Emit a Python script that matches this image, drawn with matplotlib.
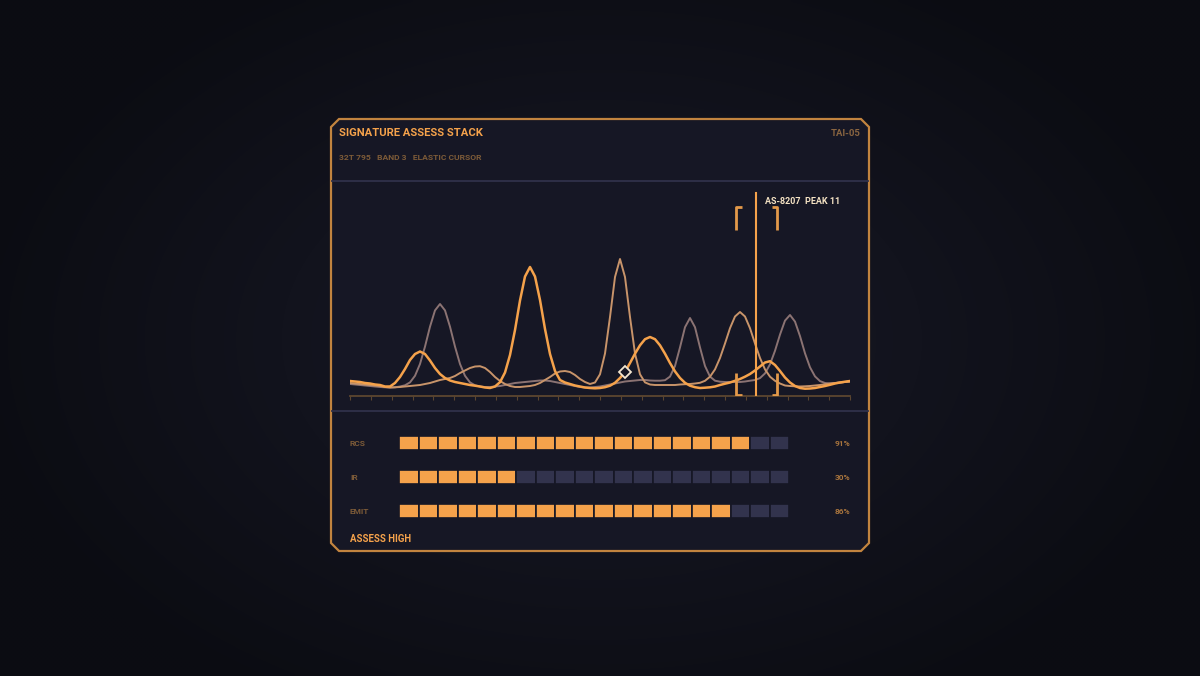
import numpy as np
import matplotlib.pyplot as plt
from matplotlib.patches import Polygon

W, H = 1200, 676

# ====== data ======
# signal samples, one every 5 px across the trace window
primary = [15, 14.5, 14, 13, 12.5, 11.5, 11, 9.5, 9.5, 13,
           19, 27, 36, 42, 44.5, 42, 35.5, 28, 22, 18,
           15.5, 14, 13, 12, 11, 10.3, 9.5, 8.5, 8, 9.5,
           13.8, 23.5, 41, 66, 95.5, 119.5, 129, 119.5, 96, 67,
           42, 25, 16, 13.5, 12, 10.5, 9.5, 8.5, 8, 7.7,
           8, 8.8, 10.3, 13.2, 18, 24, 33, 42.3, 50.7, 56.8,
           59, 56.8, 50.7, 42.3, 33, 24.6, 18, 13.2, 10.3, 8.8,
           8, 8.3, 8.7, 9.5, 11, 12.3, 13.5, 15.2, 17, 19.3,
           22, 25.5, 29.5, 33.5, 34.8, 31, 25, 18.5, 13.5, 10,
           8, 7.3, 7.5, 8, 9, 10, 11.2, 12.5, 13.5, 14.3, 15]
secondary = [13, 12.5, 12, 11.5, 11, 10.5, 10, 9, 8.5, 8.7,
             9, 9.5, 10, 10.5, 11, 12, 13, 14.5, 16, 17,
             18, 20, 23, 25.5, 28, 29.5, 29.8, 28, 24, 19,
             15, 12, 10, 9, 9, 9.5, 10, 11, 13, 16,
             19, 22.5, 24.5, 25, 24, 21, 17, 14, 12, 13.5,
             21.7, 42.5, 79, 119, 137, 119, 79, 42.5, 21.7, 13.6,
             11.5, 11, 11, 11, 11, 11, 11.5, 11.8, 12, 12.5,
             13.2, 15.2, 19.3, 26.6, 38, 52.5, 67.8, 79.5, 84, 79.5,
             67.8, 52.5, 38, 26.6, 19.3, 15.2, 12.5, 10.5, 10, 9.7,
             9.5, 9.7, 10, 10.5, 11, 11.8, 12.5, 13, 13.5, 14, 14.5]
tertiary = [12, 11.5, 11, 10.5, 10, 9.5, 9, 8.7, 8.5, 8.7,
            9.5, 10.7, 13.6, 20.2, 32, 49.4, 69.3, 85.6, 92, 85.6,
            69.3, 49.4, 32, 20.2, 13.6, 10.7, 9.5, 9, 9, 9.5,
            10, 11, 12, 13, 13.5, 14, 14.5, 15, 15.5, 15.5,
            15, 14, 13, 12, 11, 10, 9, 8.5, 8.5, 9,
            9.5, 10.5, 11.5, 12.5, 13.5, 14.5, 15, 15.5, 16, 16,
            15.5, 15.3, 15.3, 15.8, 19.4, 30, 48.6, 68.8, 78, 68.8,
            48.6, 30, 19.4, 15.3, 14.3, 14, 14, 14, 14, 14.5,
            15.3, 16, 17.9, 22.6, 31.7, 45.2, 61.4, 75.4, 81, 74.4,
            59.9, 42.7, 28.7, 19.6, 14.9, 13, 12.5, 13, 13.5, 14, 14.5]
sample_x = np.arange(len(primary))

cursor_x = 81.2
marker_i = 55
cursor_label = 'AS-8207  PEAK 11'

bar_labels = ['RCS', 'IR', 'EMIT']
bar_pct = [91, 30, 86]
n_seg = 20

title = 'SIGNATURE ASSESS STACK'
subtitle = '32T 795   BAND 3   ELASTIC CURSOR'
tag = 'TAI-05'
footer = 'ASSESS HIGH'

# ====== colours ======
ORANGE = '#f5a24b'
MUTED = '#c8946a'
MAUVE = '#8b7373'
DIM = '#7d5b38'
PANEL = '#161725'

plt.rcParams['font.family'] = ['Roboto', 'DejaVu Sans']

fig = plt.figure(figsize=(12, 6.76), dpi=100)


def px_axes(l, t, r, b):
    return fig.add_axes([l / W, 1 - b / H, (r - l) / W, (b - t) / H])


# background vignette
bg = fig.add_axes([0, 0, 1, 1])
yy, xx = np.mgrid[0:H:4, 0:W:4]
rr = np.sqrt(((xx - 600) / 640) ** 2 + ((yy - 338) / 420) ** 2)
rr = np.clip(rr, 0, 1)
c0 = np.array([25, 26, 40]) / 255
c1 = np.array([11, 12, 18]) / 255
img = c0[None, None, :] * (1 - rr[..., None]) + c1[None, None, :] * rr[..., None]
bg.imshow(img, extent=(0, W, H, 0), aspect='auto', interpolation='bilinear')
bg.set_xlim(0, W)
bg.set_ylim(H, 0)
bg.axis('off')

# panel frame
c = 8
L, T, R, B = 331, 119, 869, 551
pts = [(L + c, T), (R - c, T), (R, T + c), (R, B - c), (R - c, B), (L + c, B), (L, B - c), (L, T + c)]
bg.add_patch(Polygon(pts, closed=True, facecolor=PANEL, edgecolor='#c2843f', lw=1.6))
bg.plot([L + 1, R - 1], [181, 181], color='#30314a', lw=1.3)
bg.plot([L + 1, R - 1], [411, 411], color='#30314a', lw=1.3)

bg.text(339, 133, title, color=ORANGE, fontsize=8.1, fontweight='bold', ha='left', va='center')
bg.text(861, 133, tag, color='#8a6540', fontsize=6.8, fontweight='bold', ha='right', va='center')
bg.text(339, 158, subtitle, color=DIM, fontsize=6.1, fontweight='bold', ha='left', va='center')
bg.text(350, 539, footer, color=ORANGE, fontsize=6.9, fontweight='bold', ha='left', va='center')

# ====== trace ======
ax = px_axes(350, 186, 850, 396)
ax.set_facecolor('none')
ax.plot(sample_x, tertiary, color=MAUVE, lw=1.4, zorder=2)
ax.plot(sample_x, secondary, color=MUTED, lw=1.4, zorder=3)
ax.plot(sample_x, primary, color=ORANGE, lw=1.8, zorder=4)
ax.plot(marker_i, primary[marker_i], marker='D', ms=6.5, mfc=PANEL, mec='#f4e6d0', mew=1.3, zorder=6)

ax.axvline(cursor_x, ymin=0, ymax=203 / 210, color=ORANGE, lw=1.5, zorder=5)
bl, br = 77.2, 85.4
bk = dict(color='#e3994a', lw=2, solid_capstyle='butt', zorder=5)
ax.plot([bl + 1.1, bl, bl], [189, 189, 166], **bk)
ax.plot([br - 1.1, br, br], [189, 189, 166], **bk)
ax.plot([bl, bl, bl + 1.1], [23, 1, 1], **bk)
ax.plot([br, br, br - 1.1], [23, 1, 1], **bk)
ax.text(83, 195, cursor_label, color='#f5e3c4', fontsize=6.5, fontweight='bold', ha='left', va='center')

ax.set_xlim(0, 100)
ax.set_ylim(0, 210)
for s in ['top', 'left', 'right']:
    ax.spines[s].set_visible(False)
ax.spines['bottom'].set_color('#5c4630')
ax.spines['bottom'].set_linewidth(1.3)
ax.set_xticks(np.linspace(0, 100, 25))
ax.set_yticks([])
ax.tick_params(axis='x', direction='out', length=3, width=0.8, color='#5c4630', labelbottom=False)

# ====== segmented bars ======
bx = px_axes(399, 426, 789, 528)
bx.set_facecolor('none')
for r, pct in enumerate(bar_pct):
    filled = int(round(pct / 100 * n_seg))
    cols = [ORANGE if i < filled else '#32334d' for i in range(n_seg)]
    bx.bar(np.arange(n_seg), 0.42, bottom=r - 0.21, width=1.0, align='edge', color=cols,
           edgecolor=PANEL, linewidth=1.2)
    bx.text(-49 / 390, r, bar_labels[r], transform=bx.get_yaxis_transform(),
            color=DIM, fontsize=6, fontweight='bold', ha='left', va='center')
    bx.text(451 / 390, r, f'{pct}%', transform=bx.get_yaxis_transform(),
            color='#a8743d', fontsize=6, fontweight='bold', ha='right', va='center')
bx.set_xlim(0, 20)
bx.set_ylim(2.5, -0.5)
bx.axis('off')

fig.savefig('out.png', dpi=100)
